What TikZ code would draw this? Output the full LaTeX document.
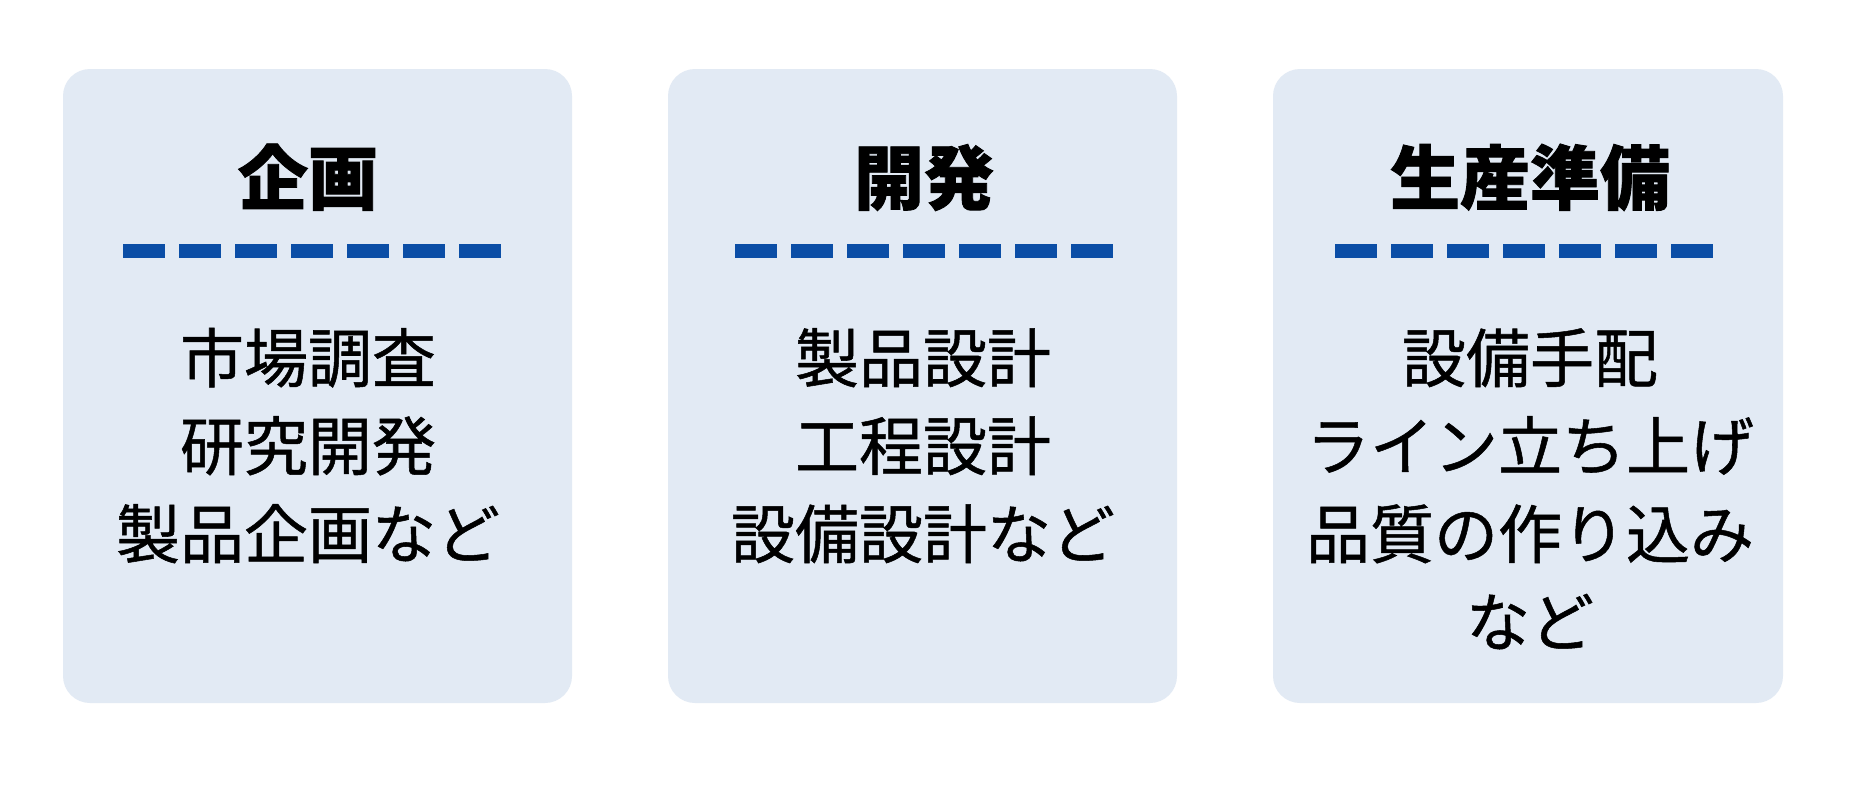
\documentclass[tikz,border=0pt]{standalone}
\usepackage{fontspec}
\setmainfont{Noto Sans CJK JP}
\newfontfamily\bodyfont{Noto Sans CJK JP}[FakeBold=0.8]
\newfontfamily\headfont{Noto Sans CJK JP}[UprightFont=*/B,FakeBold=1.2]
\definecolor{boxfill}{HTML}{E2EAF4}
\definecolor{dashblue}{HTML}{0B4EA6}
\begin{document}
\begin{tikzpicture}[x=1pt,y=-1pt,
  panel/.style={fill=boxfill,draw=none,rounded corners=27pt},
  titletext/.style={anchor=base,inner sep=0pt,font=\headfont\fontsize{70}{80}\selectfont},
  bodytext/.style={anchor=base,inner sep=0pt,font=\bodyfont\fontsize{64}{88}\selectfont},
  dashrule/.style={draw=dashblue,line width=14pt,dash pattern=on 42pt off 14pt}]
\useasboundingbox (0,0) rectangle (1857,787);
\fill[white] (0,0) rectangle (1857,787);
% panels
\path[panel] (63,69) rectangle (572,703);
\path[panel] (668,69) rectangle (1177,703);
\path[panel] (1273,69) rectangle (1783,703);
% titles
\node[titletext] (t1) at (308,204) {企画};
\node[titletext] (t2) at (924,204) {開発};
\node[titletext] (t3) at (1530,204) {生産準備};
% dashed rules
\coordinate (d1a) at (123,251); \coordinate (d1b) at (501,251);
\coordinate (d2a) at (735,251); \coordinate (d2b) at (1113,251);
\coordinate (d3a) at (1335,251); \coordinate (d3b) at (1713,251);
\draw[dashrule] (d1a) -- (d1b);
\draw[dashrule] (d2a) -- (d2b);
\draw[dashrule] (d3a) -- (d3b);
% body box 1
\node[bodytext] (a1) at (308,382) {市場調査};
\node[bodytext] (a2) at (308,470) {研究開発};
\node[bodytext] (a3) at (308,558) {製品企画など};
% body box 2
\node[bodytext] (b1) at (923,382) {製品設計};
\node[bodytext] (b2) at (923,470) {工程設計};
\node[bodytext] (b3) at (923,558) {設備設計など};
% body box 3
\node[bodytext] (c1) at (1530,382) {設備手配};
\node[bodytext] (c2) at (1530,470) {ライン立ち上げ};
\node[bodytext] (c3) at (1530,558) {品質の作り込み};
\node[bodytext] (c4) at (1530,646) {など};
\end{tikzpicture}
\end{document}
